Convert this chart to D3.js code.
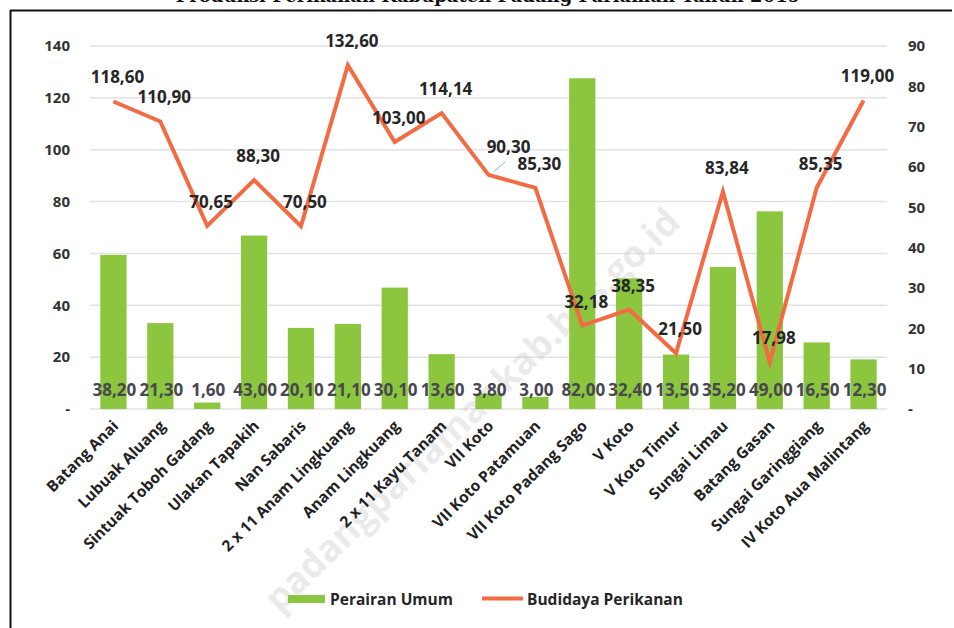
<!DOCTYPE html>
<html>
<head>
<meta charset="utf-8">
<script src="https://cdn.jsdelivr.net/npm/d3@7/dist/d3.min.js"></script>
<style>
  html, body { margin: 0; padding: 0; background: #fff; }
  svg { display: block; }
</style>
</head>
<body>
<svg id="chart" width="954" height="628"></svg>
<script>
const categories = ["Batang Anai","Lubuak Aluang","Sintuak Toboh Gadang","Ulakan Tapakih","Nan Sabaris","2 x 11 Anam Lingkuang","Anam Lingkuang","2 x 11 Kayu Tanam","VII Koto","VII Koto Patamuan","VII Koto Padang Sago","V Koto","V Koto Timur","Sungai Limau","Batang  Gasan","Sungai Garinggiang","IV Koto Aua Malintang"];
const perairanUmum = [38.20,21.30,1.60,43.00,20.10,21.10,30.10,13.60,3.80,3.00,82.00,32.40,13.50,35.20,49.00,16.50,12.30];
const budidayaPerikanan = [118.60,110.90,70.65,88.30,70.50,132.60,103.00,114.14,90.30,85.30,32.18,38.35,21.50,83.84,17.98,85.35,119.00];
const leftTicks = [0,20,40,60,80,100,120,140];
const rightTicks = [0,10,20,30,40,50,60,70,80,90];
const seriesNames = ["Perairan Umum","Budidaya Perikanan"];
const titleText = "Produksi Perikanan Kabupaten Padang Pariaman Tahun 2019";
const watermark = "padangpariamankab.bps.go.id";

const fmt = v => v.toFixed(2).replace(".", ",");
const tickFmt = v => v === 0 ? "-" : String(v);

const svg = d3.select("#chart");
const FONT = "'Open Sans', 'DejaVu Sans', sans-serif";
const GREEN = "#8cc63f";
const ORANGE = "#f26b43";

const plotL = 90, plotR = 887, plotT = 46, plotB = 409;

const x = d3.scaleBand().domain(categories).range([plotL, plotR]).paddingInner(0.44).paddingOuter(0.22);
const yL = d3.scaleLinear().domain([0, 140]).range([plotB, plotT]);
const yR = d3.scaleLinear().domain([0, 90]).range([plotB, plotT]);

// title (cut off at the top edge, as in the source)
svg.append("text").attr("x", 488).attr("y", 1.5).attr("text-anchor", "middle")
  .attr("font-family", "'DejaVu Serif', serif").attr("font-weight", 700).attr("font-size", 18)
  .attr("fill", "#111").text(titleText);

// frame
svg.append("line").attr("x1", 10).attr("x2", 952).attr("y1", 10.5).attr("y2", 10.5).attr("stroke", "#111").attr("stroke-width", 2);
svg.append("line").attr("x1", 10.5).attr("x2", 10.5).attr("y1", 10).attr("y2", 628).attr("stroke", "#111").attr("stroke-width", 2);

// gridlines
svg.append("g").selectAll("line").data(leftTicks).join("line")
  .attr("x1", plotL).attr("x2", plotR)
  .attr("y1", d => yL(d)).attr("y2", d => yL(d))
  .attr("stroke", "#e2e2e2").attr("stroke-width", 1.5);

// left axis
const axL = d3.axisLeft(yL).tickValues(leftTicks).tickFormat(tickFmt).tickSize(0).tickPadding(0);
const gL = svg.append("g").attr("transform", `translate(70,0)`).call(axL);
gL.select(".domain").remove();
gL.selectAll("text").attr("font-family", FONT).attr("font-weight", 700).attr("font-size", 15).attr("fill", "#333");

// right axis
const axR = d3.axisRight(yR).tickValues(rightTicks).tickFormat(tickFmt).tickSize(0).tickPadding(0);
const gR = svg.append("g").attr("transform", `translate(908,0)`).call(axR);
gR.select(".domain").remove();
gR.selectAll("text").attr("font-family", FONT).attr("font-weight", 700).attr("font-size", 15).attr("fill", "#333");

// watermark
svg.append("text").attr("transform", "translate(474,412) rotate(-44)")
  .attr("text-anchor", "middle").attr("dominant-baseline", "middle")
  .attr("font-family", FONT).attr("font-weight", 700).attr("font-size", 37)
  .attr("fill", "#bdbdbd").attr("opacity", 0.3).text(watermark);

// bars
svg.append("g").selectAll("rect").data(perairanUmum).join("rect")
  .attr("x", (d, i) => x(categories[i]))
  .attr("width", x.bandwidth())
  .attr("y", d => yR(d))
  .attr("height", d => yR(0) - yR(d))
  .attr("fill", GREEN);

// bar labels
svg.append("g").selectAll("text").data(perairanUmum).join("text")
  .attr("x", (d, i) => x(categories[i]) + x.bandwidth() / 2 + 1)
  .attr("y", 396)
  .attr("text-anchor", "middle")
  .attr("font-family", FONT).attr("font-weight", 700).attr("font-size", 17)
  .attr("fill", "#474751").text(d => fmt(d));

// line
const cx = i => x(categories[i]) + x.bandwidth() / 2;
const line = d3.line().x((d, i) => cx(i)).y(d => yL(d));
svg.append("path").datum(budidayaPerikanan).attr("d", line)
  .attr("fill", "none").attr("stroke", ORANGE).attr("stroke-width", 4).attr("stroke-linejoin", "miter");

// leader for VII Koto label
const leaderIdx = 8;
svg.append("line")
  .attr("x1", cx(leaderIdx) + 5).attr("y1", yL(budidayaPerikanan[leaderIdx]) - 3)
  .attr("x2", cx(leaderIdx) + 17).attr("y2", yL(budidayaPerikanan[leaderIdx]) - 13)
  .attr("stroke", "#9bb8d0").attr("stroke-width", 1);

// line labels
svg.append("g").selectAll("text").data(budidayaPerikanan).join("text")
  .attr("x", (d, i) => cx(i) + (i === leaderIdx ? 20 : 4))
  .attr("y", (d, i) => yL(d) - (i === leaderIdx ? 22 : 18))
  .attr("text-anchor", "middle")
  .attr("font-family", FONT).attr("font-weight", 700).attr("font-size", 17)
  .attr("fill", "#262626").text(d => fmt(d));

// category labels
svg.append("g").selectAll("text").data(categories).join("text")
  .attr("transform", (d, i) => `translate(${cx(i) + 6},${427}) rotate(-45)`)
  .attr("text-anchor", "end")
  .attr("font-family", FONT).attr("font-weight", 700).attr("font-size", 15.5)
  .attr("fill", "#222").text(d => d);

// legend
const lg = svg.append("g");
lg.append("rect").attr("x", 288).attr("y", 595).attr("width", 37).attr("height", 8).attr("fill", GREEN);
lg.append("text").attr("x", 330).attr("y", 605).attr("font-family", FONT).attr("font-weight", 700)
  .attr("font-size", 15.5).attr("fill", "#262626").text(seriesNames[0]);
lg.append("line").attr("x1", 482).attr("x2", 523).attr("y1", 598.5).attr("y2", 598.5).attr("stroke", ORANGE).attr("stroke-width", 4);
lg.append("text").attr("x", 527).attr("y", 605).attr("font-family", FONT).attr("font-weight", 700)
  .attr("font-size", 15.5).attr("fill", "#262626").text(seriesNames[1]);
</script>
</body>
</html>
